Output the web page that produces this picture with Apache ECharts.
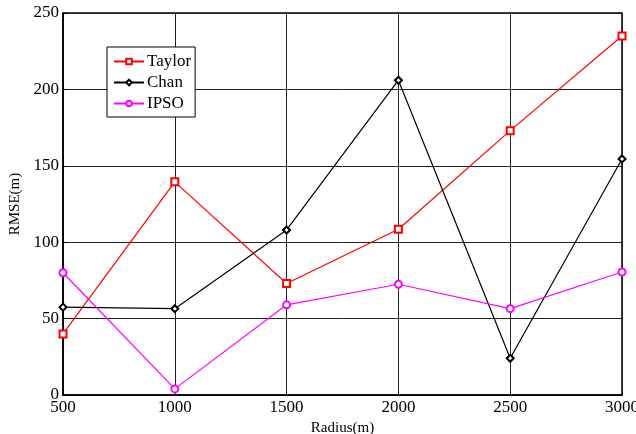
<!DOCTYPE html>
<html><head><meta charset="utf-8">
<script src="https://cdn.jsdelivr.net/npm/echarts@6/dist/echarts.min.js"></script>
<style>html,body{margin:0;padding:0;background:#fff}#c{width:636px;height:434px}</style>
</head><body><div id="c"></div>
<script>
var radius = [500, 1000, 1500, 2000, 2500, 3000];
var taylor = [40, 139.5, 73, 108.5, 173, 235];
var chan = [57.5, 56.5, 108, 206, 24, 154.5];
var ipso = [80, 4, 59, 72.5, 56.5, 80.5];
var seriesNames = ['Taylor', 'Chan', 'IPSO'];

function pairs(v){ return radius.map(function(r,i){return [r, v[i]];}); }
var font = 'Liberation Serif';
var chart = echarts.init(document.getElementById('c'));
chart.setOption({
  animation: false,
  backgroundColor: '#fff',
  grid: {left: 63, right: 14, top: 13, bottom: 39, show: true, borderColor: '#000', borderWidth: 1.5,
         containLabel: false, outerBoundsMode: 'none'},
  legend: {
    left: 107, top: 47, orient: 'vertical', itemGap: 4, itemWidth: 30, itemHeight: 7,
    padding: [6, 4, 5, 6],
    borderColor: '#000', borderWidth: 1, backgroundColor: '#fff',
    textStyle: {fontFamily: font, fontSize: 17, color: '#000', padding: [0,0,0,-2]},
    data: seriesNames
  },
  xAxis: {
    type: 'value', min: 500, max: 3000, interval: 500,
    name: 'Radius(m)', nameLocation: 'middle', nameGap: 22,
    nameTextStyle: {fontFamily: font, fontSize: 15, color: '#000'},
    axisLine: {lineStyle: {color: '#000', width: 1.5}},
    axisTick: {inside: true, length: 4, lineStyle: {color: '#000'}},
    axisLabel: {fontFamily: font, fontSize: 17, color: '#000', margin: 4, formatter: function(v){return String(v);}},
    splitLine: {show: true, lineStyle: {color: '#222', width: 1}}
  },
  yAxis: {
    type: 'value', min: 0, max: 250, interval: 50,
    name: 'RMSE(m)', nameLocation: 'middle', nameGap: 34, nameRotate: 90,
    nameTextStyle: {fontFamily: font, fontSize: 15, color: '#000'},
    axisLine: {lineStyle: {color: '#000', width: 1.5}},
    axisTick: {inside: true, length: 4, lineStyle: {color: '#000'}},
    axisLabel: {fontFamily: font, fontSize: 17, color: '#000', margin: 4, formatter: function(v){return String(v);}},
    splitLine: {show: true, lineStyle: {color: '#222', width: 1}}
  },
  series: [
    {name: 'Taylor', type: 'line', data: pairs(taylor), symbol: 'emptyRect', symbolSize: 7,
     itemStyle: {color: '#ff0000', borderWidth: 1.1}, lineStyle: {color: '#ff0000', width: 1.2}},
    {name: 'Chan', type: 'line', data: pairs(chan), symbol: 'emptyDiamond', symbolSize: 7,
     itemStyle: {color: '#000000', borderWidth: 1.1}, lineStyle: {color: '#000000', width: 1.2}},
    {name: 'IPSO', type: 'line', data: pairs(ipso), symbol: 'emptyCircle', symbolSize: 7,
     itemStyle: {color: '#ff00ff', borderWidth: 1.1}, lineStyle: {color: '#ff00ff', width: 1.2}}
  ]
});
</script></body></html>
